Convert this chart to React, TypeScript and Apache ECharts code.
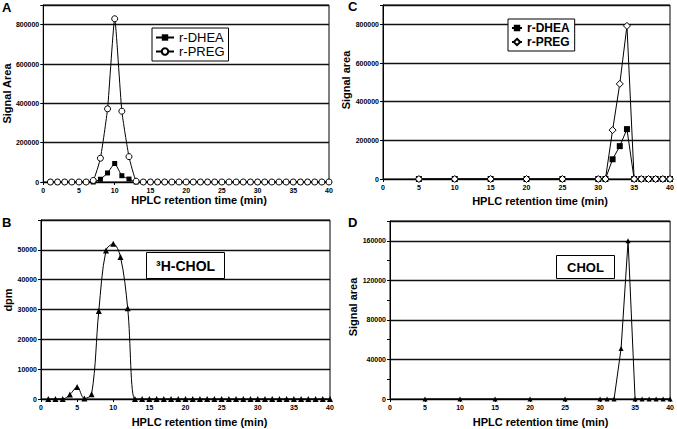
import React, { useEffect, useRef } from 'react';
import * as echarts from 'echarts';

const FONT = '"Liberation Sans", Arial, Helvetica, sans-serif';

// Panel A & B retention times (min)
const timeAB = [1, 2, 3, 4, 5, 6, 7, 8, 9, 10, 11, 12, 13, 14, 15, 16, 17, 18, 19, 20, 21, 22, 23, 24, 25, 26, 27, 28, 29, 30, 31, 32, 33, 34, 35, 36, 37, 38, 39, 40];
// Panel A signal area
const dheaA = [0, 0, 0, 0, 0, 0, 0, 14000, 46000, 94000, 32000, 15000, 0, 0, 0, 0, 0, 0, 0, 0, 0, 0, 0, 0, 0, 0, 0, 0, 0, 0, 0, 0, 0, 0, 0, 0, 0, 0, 0, 0];
const pregA = [0, 0, 0, 0, 0, 0, 8000, 121000, 372000, 830000, 360000, 129000, 4000, 0, 0, 0, 0, 0, 0, 0, 0, 0, 0, 0, 0, 0, 0, 0, 0, 0, 0, 0, 0, 0, 0, 0, 0, 0, 0, 0];
// Panel B dpm
const cholB = [0, 0, 0, 1500, 4000, 200, 1600, 29500, 49800, 52000, 47600, 30400, 0, 0, 0, 0, 0, 0, 0, 0, 0, 0, 0, 0, 0, 0, 0, 0, 0, 0, 0, 0, 0, 0, 0, 0, 0, 0, 0, 0];
// Panel C & D retention times (min)
const timeCD = [5, 10, 15, 20, 25, 30, 31, 32, 33, 34, 35, 36, 37, 38, 39, 40];
const dheaC = [0, 0, 0, 0, 0, 0, 0, 102000, 170000, 258000, 0, 0, 0, 0, 0, 0];
const pregC = [0, 0, 0, 0, 0, 0, 0, 253000, 492000, 792000, 0, 0, 0, 0, 0, 0];
const cholD = [0, 0, 0, 0, 0, 0, 0, 0, 51000, 160000, 0, 0, 0, 0, 0, 0];

const xTitle = 'HPLC retention time (min)';

const zip = (xs: number[], ys: number[]) => xs.map((x, i) => [x, ys[i]]);

function xAxis(gridIndex: number, gap: number, padLeft: number) {
  return {
    type: 'value',
    gridIndex,
    min: 0,
    max: 40,
    interval: 5,
    name: xTitle,
    nameLocation: 'middle',
    nameGap: gap,
    nameTextStyle: { fontFamily: FONT, fontSize: 11, fontWeight: 'bold', color: '#000', padding: [0, 0, 0, padLeft] },
    axisLine: { show: true, onZero: false, lineStyle: { color: '#000', width: 1 } },
    axisTick: { show: true, length: 3, lineStyle: { color: '#000' } },
    axisLabel: { fontFamily: FONT, fontSize: 7, fontWeight: 'bold', color: '#000', margin: 5 },
    splitLine: { show: false },
  };
}

function yAxis(gridIndex: number, max: number, interval: number, name: string, gap: number, padLeft: number, minor: boolean) {
  return {
    type: 'value',
    gridIndex,
    min: 0,
    max,
    interval,
    name,
    nameLocation: 'middle',
    nameGap: gap,
    nameTextStyle: { fontFamily: FONT, fontSize: 11, fontWeight: 'bold', color: '#000', padding: [0, 0, 0, padLeft] },
    axisLine: { show: true, lineStyle: { color: '#000', width: 1 } },
    axisTick: { show: true, length: 3, lineStyle: { color: '#000' } },
    minorTick: { show: minor, splitNumber: 2, length: 3, lineStyle: { color: '#000' } },
    axisLabel: {
      fontFamily: FONT,
      fontSize: 7,
      fontWeight: 'bold',
      color: '#000',
      margin: 4,
      formatter: (v: number) => (v >= max ? '' : String(v)),
    },
    splitLine: { show: true, lineStyle: { color: '#111', width: 1.4 } },
  };
}

const lineBase = { type: 'line', lineStyle: { color: '#000', width: 1 }, color: '#000', z: 3 };

const option: any = {
  animation: false,
  backgroundColor: '#fff',
  textStyle: { fontFamily: FONT },
  grid: [
    { left: 41, top: 5, width: 288, height: 177, show: true, borderColor: '#000', borderWidth: 1, backgroundColor: 'transparent' },
    { left: 41, top: 220, width: 289, height: 179, show: true, borderColor: '#000', borderWidth: 1, backgroundColor: 'transparent' },
    { left: 383, top: 5, width: 287, height: 174, show: true, borderColor: '#000', borderWidth: 1, backgroundColor: 'transparent' },
    { left: 390, top: 221, width: 282, height: 178, show: true, borderColor: '#000', borderWidth: 1, backgroundColor: 'transparent' },
  ],
  xAxis: [xAxis(0, 12, 26), xAxis(1, 17, 28), xAxis(2, 16, 27), xAxis(3, 17, 21)],
  yAxis: [
    yAxis(0, 900000, 200000, 'Signal Area', 28, 0, false),
    yAxis(1, 60000, 10000, 'dpm', 26, 19, false),
    yAxis(2, 900000, 200000, 'Signal area', 27, 24, false),
    yAxis(3, 180000, 40000, 'Signal area', 28, 6, true),
  ],
  title: [
    { text: 'A', left: 2, top: 1, padding: 0, textStyle: { fontFamily: FONT, fontSize: 13, fontWeight: 'bold', color: '#000' } },
    { text: 'B', left: 2, top: 216, padding: 0, textStyle: { fontFamily: FONT, fontSize: 13, fontWeight: 'bold', color: '#000' } },
    { text: 'C', left: 348, top: 0, padding: 0, textStyle: { fontFamily: FONT, fontSize: 13, fontWeight: 'bold', color: '#000' } },
    { text: 'D', left: 348, top: 216, padding: 0, textStyle: { fontFamily: FONT, fontSize: 13, fontWeight: 'bold', color: '#000' } },
    {
      text: '³H-CHOL', left: 146, top: 252, padding: [7, 10, 6, 10], borderColor: '#000', borderWidth: 1, backgroundColor: '#fff',
      textStyle: { fontFamily: FONT, fontSize: 14, fontWeight: 'bold', color: '#000' },
    },
    {
      text: 'CHOL', left: 556, top: 255, padding: [6, 11, 5, 11], borderColor: '#000', borderWidth: 1, backgroundColor: '#fff',
      textStyle: { fontFamily: FONT, fontSize: 13, fontWeight: 'bold', color: '#000' },
    },
  ],
  legend: [
    {
      data: ['r-DHEA', 'r-PREG'], left: 152, top: 28, orient: 'vertical', padding: [3, 4, 3, 3], itemGap: 1,
      itemWidth: 18, itemHeight: 8, borderColor: '#000', borderWidth: 1, backgroundColor: '#fff', selectedMode: false,
      textStyle: { fontFamily: FONT, fontSize: 13, color: '#000' },
    },
    {
      data: ['r-DHEA C', 'r-PREG C'], left: 508, top: 19, orient: 'vertical', padding: [3, 5, 3, 3], itemGap: 2,
      itemWidth: 10, itemHeight: 8, borderColor: '#000', borderWidth: 1, backgroundColor: '#fff', selectedMode: false,
      formatter: (n: string) => n.replace(' C', ''),
      textStyle: { fontFamily: FONT, fontSize: 12, fontWeight: 'bold', color: '#000' },
    },
  ],
  series: [
    { ...lineBase, name: 'r-DHEA', xAxisIndex: 0, yAxisIndex: 0, data: zip(timeAB, dheaA), symbol: 'rect', symbolSize: 5, smooth: 0.15, itemStyle: { color: '#000' } },
    { ...lineBase, name: 'r-PREG', xAxisIndex: 0, yAxisIndex: 0, data: zip(timeAB, pregA), symbol: 'circle', symbolSize: 6, smooth: 0.15, itemStyle: { color: '#fff', borderColor: '#000', borderWidth: 1 } },
    { ...lineBase, name: '³H-CHOL', xAxisIndex: 1, yAxisIndex: 1, data: zip(timeAB, cholB), symbol: 'triangle', symbolSize: 6, smooth: 0.35, itemStyle: { color: '#000' } },
    { ...lineBase, name: 'r-DHEA C', xAxisIndex: 2, yAxisIndex: 2, data: zip(timeCD, dheaC), symbol: 'rect', symbolSize: 6, itemStyle: { color: '#000' } },
    { ...lineBase, name: 'r-PREG C', xAxisIndex: 2, yAxisIndex: 2, data: zip(timeCD, pregC), symbol: 'diamond', symbolSize: 7, itemStyle: { color: '#fff', borderColor: '#000', borderWidth: 1 } },
    { ...lineBase, name: 'CHOL', xAxisIndex: 3, yAxisIndex: 3, data: zip(timeCD, cholD), symbol: 'triangle', symbolSize: 5, itemStyle: { color: '#000' } },
  ],
};

export default function App() {
  const ref = useRef<HTMLDivElement>(null);
  useEffect(() => {
    document.body.style.margin = '0';
    const chart = echarts.init(ref.current!, null, { renderer: 'svg' });
    chart.setOption(option);
    return () => chart.dispose();
  }, []);
  return <div ref={ref} style={{ width: 677, height: 429 }} />;
}
